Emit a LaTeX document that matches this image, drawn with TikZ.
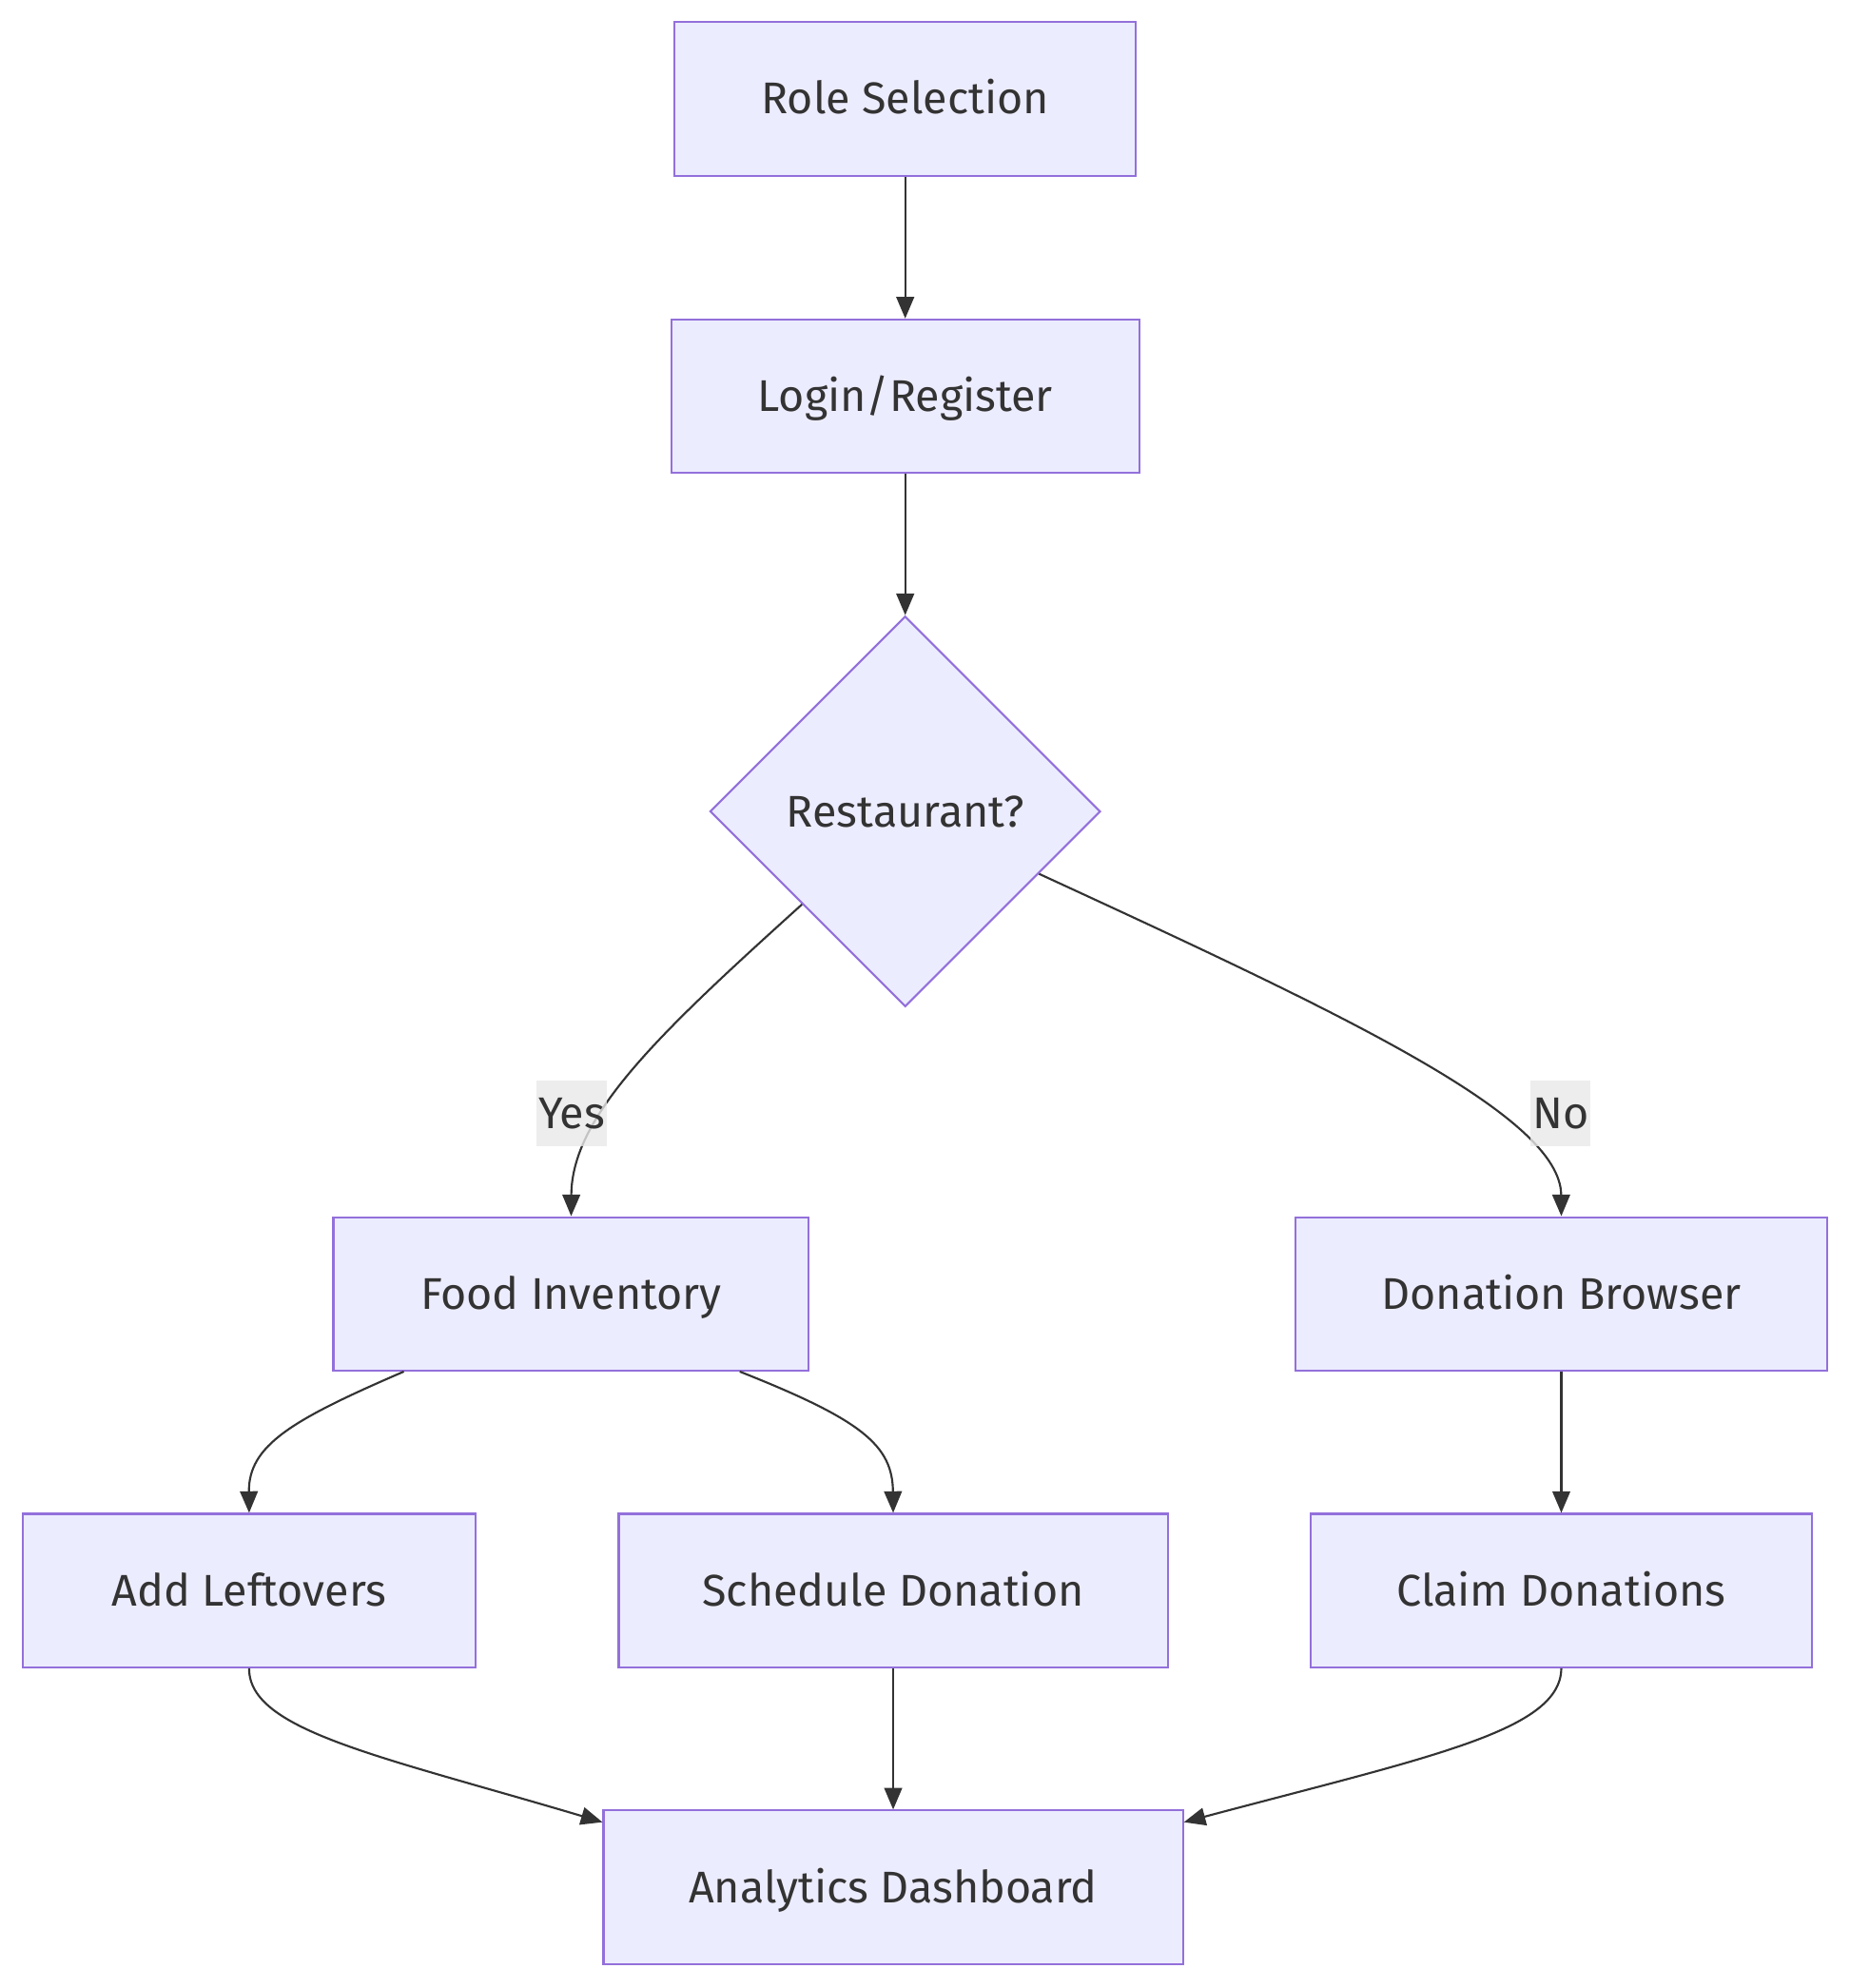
\documentclass[tikz,border=0pt]{standalone}
\usepackage{fontspec}
\setmainfont{Fira Sans}
\usetikzlibrary{shapes.geometric,arrows.meta}
\definecolor{ffnode}{HTML}{ECECFF}
\definecolor{ffline}{HTML}{9370DB}
\definecolor{fftxt}{HTML}{333333}
\definecolor{fflab}{HTML}{E8E8E8}

\begin{document}
\begin{tikzpicture}[x=1pt,y=-1pt,
  box/.style={draw=ffline,fill=ffnode,line width=1.6pt,text=fftxt,
    font=\fontsize{35}{42}\selectfont,minimum height=121pt,inner sep=0pt,
    text height=30pt,text depth=6pt},
  edge/.style={draw=fftxt,line width=1.6pt,-{Triangle[length=17pt,width=14pt]}},
  lab/.style={fill=fflab,fill opacity=0.8,text opacity=1,text=fftxt,
    font=\fontsize{35}{42}\selectfont,inner sep=1.5pt,minimum height=52pt}]
  \useasboundingbox (0,0) rectangle (1459,1568);
  % nodes
  \node[box,minimum width=364pt] (role) at (714,78) {Role Selection};
  \node[box,minimum width=369pt] (login) at (714,312.5) {Login/Register};
  \node[box,shape=diamond,minimum width=308pt,minimum height=308pt] (dec) at (714,640) {Restaurant?};
  \node[box,minimum width=375pt] (food) at (450.5,1020.5) {Food Inventory};
  \node[box,minimum width=419pt] (browser) at (1231.5,1020.5) {Donation Browser};
  \node[box,minimum width=357pt] (add) at (196.5,1254.5) {Add Leftovers};
  \node[box,minimum width=433pt] (sched) at (704.5,1254.5) {Schedule Donation};
  \node[box,minimum width=395pt] (claim) at (1231.5,1254.5) {Claim Donations};
  \node[box,minimum width=457pt] (dash) at (704.5,1488.5) {Analytics Dashboard};
  % straight edges
  \foreach \a/\b in {role/login,login/dec,browser/claim,sched/dash}{\draw[edge] (\a.south) -- (\b.north);}
  % curved edges
  \draw[edge] (dec.-138) .. controls (520,815) and (451,880) .. (food.north);
  \draw[edge] (dec.-25) .. controls (1060,800) and (1231,880) .. (browser.north);
  \draw[edge] ([xshift=-132pt]food.south) .. controls (230,1120) and (196,1140) .. (add.north);
  \draw[edge] ([xshift=133pt]food.south) .. controls (680,1120) and (704,1140) .. (sched.north);
  \draw[edge] (add.south) .. controls (196,1365) and (300,1385) .. ([yshift=-10pt]dash.north west);
  \draw[edge] (claim.south) .. controls (1231,1365) and (1130,1385) .. ([yshift=-10pt]dash.north east);
  % labels
  \node[lab] (yes) at (451,878) {Yes};
  \node[lab] (no) at (1231,878) {No};
\end{tikzpicture}
\end{document}
